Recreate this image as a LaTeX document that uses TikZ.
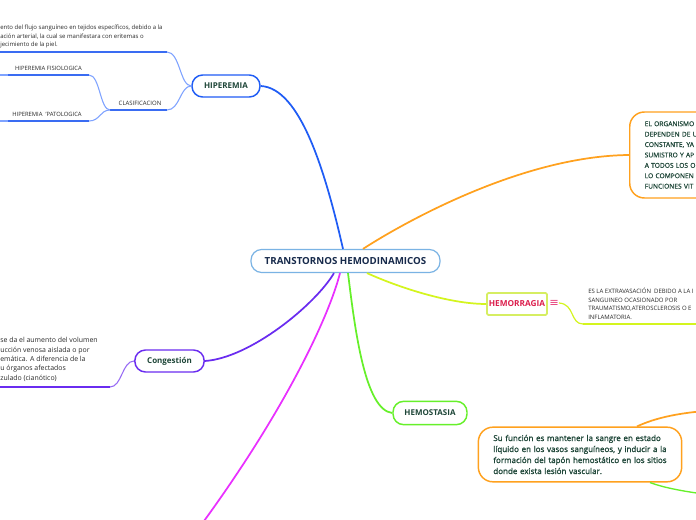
\documentclass[tikz,border=0pt]{standalone}
\usepackage{fontspec}
\setmainfont{Open Sans}
\newfontfamily\symfont{DejaVu Sans}
\newfontfamily\semib[FakeBold=1.2]{Open Sans}
\newfontfamily\medf[FakeBold=0.6]{Open Sans}
\usetikzlibrary{calc}
\definecolor{cblue}{HTML}{1F5CF5}
\definecolor{cblue2}{HTML}{3A6CF2}
\definecolor{csub}{HTML}{7FA3FF}
\definecolor{cborder}{HTML}{7AB3E4}
\definecolor{ctext}{HTML}{172A4B}
\definecolor{ntext}{HTML}{1E4638}
\definecolor{stext}{HTML}{2A2A2A}
\definecolor{corange}{HTML}{FFA11E}
\definecolor{clime}{HTML}{D4F51E}
\definecolor{climeb}{HTML}{D6EE62}
\definecolor{cred}{HTML}{DC1F4D}
\definecolor{cpink}{HTML}{E8457E}
\definecolor{cgreen}{HTML}{66F02A}
\definecolor{cpurple}{HTML}{6A2CF0}
\definecolor{cmagenta}{HTML}{E930FF}
\tikzset{
  topic/.style={draw, fill=white, rounded corners=8pt, line width=1.1pt, inner sep=0pt,
    text=ntext, font=\bfseries\fontsize{6}{7}\selectfont},
  conn/.style={line width=1.3pt},
  subconn/.style={line width=0.8pt, csub},
  uline/.style={line width=1.6pt},
  smalltext/.style={inner sep=0pt, align=left, text=stext},
}
\begin{document}
\begin{tikzpicture}[x=0.75pt,y=-0.75pt]
\clip (0,0) rectangle (696,520);
\fill[white] (0,0) rectangle (696,520);

% ---- nodes ----
\node[topic, draw=cborder, text=ctext, line width=0.9pt, minimum width=141.75pt, minimum height=17.25pt,
  font=\bfseries\fontsize{7.3}{9}\selectfont] (c) at (345.5,261) {TRANSTORNOS HEMODINAMICOS};
\node[topic, draw=cblue, minimum width=51pt, minimum height=16.5pt] (hip) at (226,86) {HIPEREMIA};
\node[topic, draw=cpurple, minimum width=52pt, minimum height=16.5pt] (cong) at (169.5,361) {Congestión};
\node[topic, draw=cgreen, minimum width=55.5pt, minimum height=17.5pt] (hemo) at (430,413) {HEMOSTASIA};
\node[topic, draw=climeb, rounded corners=1pt, line width=1.3pt, text=cred, minimum width=45pt,
  minimum height=16.5pt, font=\bfseries\fontsize{6.2}{7}\selectfont] (hem) at (517,304) {HEMORRAGIA};
\node[inner sep=0pt, text=cpink, font=\symfont\fontsize{8.5}{9}\selectfont] (hemi) at (554,303) {≡};

\node[topic, draw=corange, rounded corners=11pt, anchor=west, align=left, text width=100pt,
  inner xsep=11.25pt, inner ysep=0pt, minimum height=64.5pt,
  font=\medf\fontsize{5}{7.8}\selectfont] (org) at (629,155)
  {EL ORGANISMO\\DEPENDEN DE U\\CONSTANTE, YA\\SUMISTRO Y AP\\A TODOS LOS O\\LO COMPONEN\\FUNCIONES VIT};

\node[topic, draw=corange, rounded corners=11pt, align=left, text width=130pt,
  inner xsep=11.25pt, inner ysep=0pt, minimum height=41pt,
  font=\semib\fontsize{6}{8.25}\selectfont] (su) at (580,454.5)
  {Su función es mantener la sangre en estado\\líquido en los vasos sanguíneos, y inducir a la\\formación del tapón hemostático en los sitios\\donde exista lesión vascular.};

% ---- text nodes ----
\node[smalltext, anchor=north west, font=\fontsize{4.5}{6.4}\selectfont] (hdesc) at (0,25)
  {ento del flujo sanguíneo en tejidos específicos, debido a la\\ación arterial, la cual se manifestara con eritemas o\\jecimiento de la piel.};
\node[smalltext, font=\fontsize{4.5}{5}\selectfont] (clas) at (140,103) {CLASIFICACION};
\node[smalltext, font=\fontsize{4.4}{5}\selectfont] (fis) at (48.5,68) {HIPEREMIA FISIOLOGICA};
\node[smalltext, font=\fontsize{4.4}{5}\selectfont] (pat) at (47,114) {HIPEREMIA \ 'PATOLOGICA};
\node[smalltext, anchor=north west, font=\fontsize{4.5}{6.3}\selectfont] (hdesc2) at (588,288)
  {ES LA EXTRAVASACIÓN \ DEBIDO A LA I\\SANGUINEO OCASIONADO POR\\TRAUMATISMO,ATEROSCLEROSIS O E\\INFLAMATORIA.};
\node[smalltext, anchor=north west, font=\fontsize{5.2}{7.1}\selectfont] (cdesc) at (0,337)
  {se da el aumento del volumen\\ucción venosa aislada o por\\emática. A diferencia de la\\\hspace*{0pt}u órganos afectados\\zulado (cianótico)};

% ---- coordinates ----
\coordinate (hu1) at (167,52);  \coordinate (hu0) at (-2,52);
\coordinate (cu1) at (167,110); \coordinate (cu0) at (110,110);
\coordinate (fu1) at (89,75);   \coordinate (fu0) at (8,75);   \coordinate (fuz) at (-2,75);
\coordinate (pu1) at (89,121);  \coordinate (pu0) at (8,121);  \coordinate (puz) at (-2,121);
\coordinate (hmu1) at (583,324); \coordinate (hmu2) at (700,324);
\coordinate (gu1) at (110,387); \coordinate (gu0) at (-2,387);
\coordinate (mend) at (190,540);
\coordinate (o2) at (720,410);
\coordinate (g2) at (720,496);

% ---- connectors ----
\draw[conn, cblue] ($(c.north)+(-2.5,0)$) .. controls (325,170) and (300,88) .. (hip.east);
\draw[subconn] (hip.west) .. controls (180,86) and (180,52) .. (hu1);
\draw[uline, cblue2] (hu1) -- (hu0);
\draw[subconn] (hip.west) .. controls (180,86) and (180,110) .. (cu1);
\draw[uline, cblue2] (cu1) -- (cu0);
\draw[subconn] (cu0) .. controls (100,110) and (100,75) .. (fu1);
\draw[uline, cblue2] (fu1) -- (fu0);
\draw[subconn] (fu0) -- (fuz);
\draw[subconn] (cu0) .. controls (100,110) and (100,121) .. (pu1);
\draw[uline, cblue2] (pu1) -- (pu0);
\draw[subconn] (pu0) -- (puz);

\draw[conn, corange] ($(c.north)+(17.5,0)$) .. controls (400,225) and (520,156) .. (org.west);

\draw[conn, clime] ($(c.south)+(21.5,0)$) .. controls (400,288) and (450,304) .. (hem.west);
\draw[line width=0.9pt, clime] (hemi.east) .. controls (575,304) and (570,324) .. (hmu1);
\draw[uline, clime] (hmu1) -- (hmu2);

\draw[conn, cgreen] ($(c.south)+(2.5,0)$) .. controls (355,330) and (365,410) .. (hemo.west);

\draw[conn, cpurple] ($(c.south)+(-11.5,0)$) .. controls (315,305) and (250,358) .. (cong.east);
\draw[line width=0.8pt, cpurple!70] (cong.west) .. controls (122,361) and (122,387) .. (gu1);
\draw[uline, cpurple] (gu1) -- (gu0);

\draw[conn, cmagenta] ($(c.south)+(-5.5,0)$) .. controls (328,320) and (280,420) .. (mend);

\draw[conn, corange] ($(su.north)+(57,0)$) .. controls (655,418) and (680,412) .. (o2);
\draw[line width=1pt, cgreen] ($(su.south)+(70,0)$) .. controls (665,488) and (685,492) .. (g2);
\end{tikzpicture}
\end{document}
